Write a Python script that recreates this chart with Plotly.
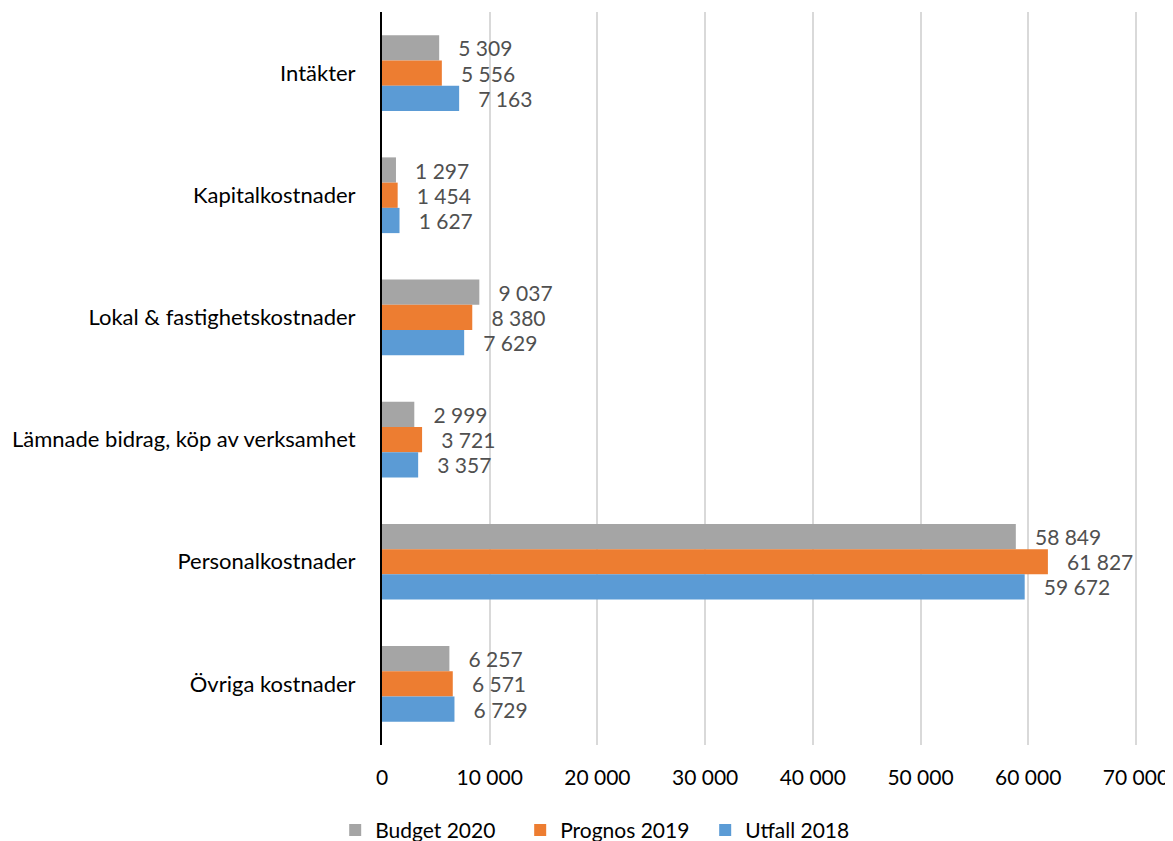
import plotly.graph_objects as go

categories = [
    "Intäkter",
    "Kapitalkostnader",
    "Lokal & fastighetskostnader",
    "Lämnade bidrag, köp av verksamhet",
    "Personalkostnader",
    "Övriga kostnader",
]
budget_2020 = [5309, 1297, 9037, 2999, 58849, 6257]
prognos_2019 = [5556, 1454, 8380, 3721, 61827, 6571]
utfall_2018 = [7163, 1627, 7629, 3357, 59672, 6729]

x_ticks = [0, 10000, 20000, 30000, 40000, 50000, 60000, 70000]

FONT = "Lato"
FS = 21


def fmt(v):
    return "\u00a0\u00a0\u00a0" + f"{v:,}".replace(",", " ")


series = [
    ("Budget 2020", budget_2020, "#A5A5A5"),
    ("Prognos 2019", prognos_2019, "#ED7D31"),
    ("Utfall 2018", utfall_2018, "#5B9BD5"),
]

fig = go.Figure()
for name, vals, color in series:
    fig.add_trace(go.Bar(
        y=categories,
        x=vals,
        name=name,
        orientation="h",
        marker=dict(color=color, line=dict(width=0)),
        text=[fmt(v) for v in vals],
        textposition="outside",
        textfont=dict(family=FONT, size=FS, color="#505050"),
        cliponaxis=False,
    ))

fig.update_layout(
    width=1165,
    height=850,
    barmode="group",
    bargap=0.38,
    bargroupgap=0,
    separators=", ",
    plot_bgcolor="white",
    paper_bgcolor="white",
    font=dict(family=FONT, size=FS, color="black"),
    margin=dict(t=4, b=113, l=374, r=36),
    xaxis=dict(
        range=[0, 70100],
        tickvals=x_ticks,
        tickformat=",d",
        showgrid=True,
        gridcolor="#D9D9D9",
        gridwidth=2,
        zeroline=False,
        showline=False,
        ticks="",
        ticklabelstandoff=18,
        ticklabeloverflow="allow",
        automargin=False,
        tickfont=dict(family=FONT, size=FS, color="black"),
    ),
    yaxis=dict(
        autorange="reversed",
        showline=True,
        linecolor="black",
        linewidth=2,
        showgrid=False,
        ticks="",
        ticklabelstandoff=20,
        automargin=False,
        tickfont=dict(family=FONT, size=22, color="black"),
    ),
    showlegend=True,
    legend=dict(
        orientation="h",
        x=-0.062,
        xanchor="left",
        yref="container",
        y=0.0085,
        yanchor="bottom",
        font=dict(family=FONT, size=FS, color="black"),
        itemwidth=30,
        entrywidth=140,
    ),
)

fig.write_html("out.html")
